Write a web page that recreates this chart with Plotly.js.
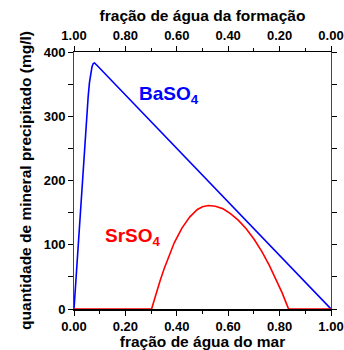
<!DOCTYPE html>
<html><head><meta charset="utf-8">
<script src="https://cdn.plot.ly/plotly-3.0.1.min.js"></script>
<style>html,body{margin:0;padding:0;background:#fff;}#c{width:344px;height:350px;}</style>
</head><body><div id="c"></div>
<script>
const baX = [0, 0.01, 0.02, 0.03, 0.04, 0.05, 0.055, 0.06, 0.065, 0.07, 0.075, 0.08, 0.09, 0.2, 0.4, 0.6, 0.8, 1.0];
const baY = [0, 62, 124, 186, 248, 305, 330, 352, 368, 377, 382, 383, 379, 333, 250, 167, 83, 0];
const srX = [0, 0.302, 0.31, 0.32, 0.335, 0.35, 0.37, 0.39, 0.42, 0.45, 0.48, 0.50, 0.523, 0.55, 0.58, 0.61, 0.64, 0.67, 0.70, 0.73, 0.76, 0.79, 0.81, 0.825, 0.835, 1.0];
const srY = [0, 0, 11, 25, 44, 62, 84, 103, 126, 143, 155, 159, 161, 160, 156, 148, 138, 125, 109, 90, 68, 43, 25, 10, 0, 0];
const xTicks = [0, 0.2, 0.4, 0.6, 0.8, 1.0];
const xTickText = ['0.00', '0.20', '0.40', '0.60', '0.80', '1.00'];
const topTickText = ['1.00', '0.80', '0.60', '0.40', '0.20', '0.00'];
const yTicks = [0, 100, 200, 300, 400];

const tickFont = {family: 'Liberation Sans, Arial, sans-serif', size: 13, color: '#000', weight: 'bold'};
const titleFont = {family: 'Liberation Sans, Arial, sans-serif', size: 15.5, color: '#000', weight: 'bold'};

const traces = [
  {x: baX, y: baY, mode: 'lines', line: {color: '#0000ff', width: 1.6}, xaxis: 'x', yaxis: 'y', hoverinfo: 'skip'},
  {x: srX, y: srY, mode: 'lines', line: {color: '#ff0000', width: 1.6}, xaxis: 'x', yaxis: 'y', hoverinfo: 'skip'},
  {x: baX.map(v => 1 - v), y: baY, mode: 'lines', opacity: 0, xaxis: 'x2', yaxis: 'y', hoverinfo: 'skip', showlegend: false}
];

const layout = {
  width: 344, height: 350,
  margin: {l: 74, r: 13, t: 52, b: 41},
  showlegend: false,
  paper_bgcolor: '#fff', plot_bgcolor: '#fff',
  xaxis: {
    range: [0, 1], tickvals: xTicks, ticktext: xTickText, tickfont: tickFont,
    ticks: 'outside', ticklen: 5, tickwidth: 1, tickcolor: '#000',
    minor: {dtick: 0.1, ticklen: 3, tickcolor: '#000', ticks: 'outside'},
    showline: true, linecolor: '#000', linewidth: 1.5, showgrid: false, zeroline: false,
    layer: 'below traces',
    title: {text: 'fração de água do mar', font: titleFont, standoff: 1}
  },
  xaxis2: {
    overlaying: 'x', side: 'top', range: [1, 0], tickvals: [1, 0.8, 0.6, 0.4, 0.2, 0], ticktext: topTickText,
    tickfont: tickFont, ticks: 'outside', ticklen: 5, tickwidth: 1, tickcolor: '#000',
    minor: {dtick: 0.1, ticklen: 3, tickcolor: '#000', ticks: 'outside'},
    showline: true, linecolor: '#000', linewidth: 1.5, showgrid: false, zeroline: false,
    layer: 'below traces',
    title: {text: 'fração de água da formação', font: titleFont, standoff: 3}
  },
  yaxis: {
    range: [0, 400], tickvals: yTicks, tickfont: tickFont,
    ticks: 'outside', ticklen: 5, tickwidth: 1, tickcolor: '#000',
    minor: {dtick: 50, ticklen: 3, tickcolor: '#000', ticks: 'outside'},
    showline: true, mirror: 'allticks', linecolor: '#444', linewidth: 1, showgrid: false, zeroline: false,
    layer: 'below traces',
    title: {text: 'quantidade de mineral precipitado (mg/l)', font: titleFont, standoff: 8}
  },
  annotations: [
    {x: 0.37, y: 333, xref: 'x', yref: 'y', text: 'BaSO<sub>4</sub>', showarrow: false,
     font: {family: 'Liberation Sans, Arial, sans-serif', size: 19, color: '#0000ff', weight: 'bold'}},
    {x: 0.23, y: 112, xref: 'x', yref: 'y', text: 'SrSO<sub>4</sub>', showarrow: false,
     font: {family: 'Liberation Sans, Arial, sans-serif', size: 19, color: '#ff0000', weight: 'bold'}}
  ]
};

Plotly.newPlot('c', traces, layout, {displayModeBar: false, staticPlot: true});
</script>
</body></html>
